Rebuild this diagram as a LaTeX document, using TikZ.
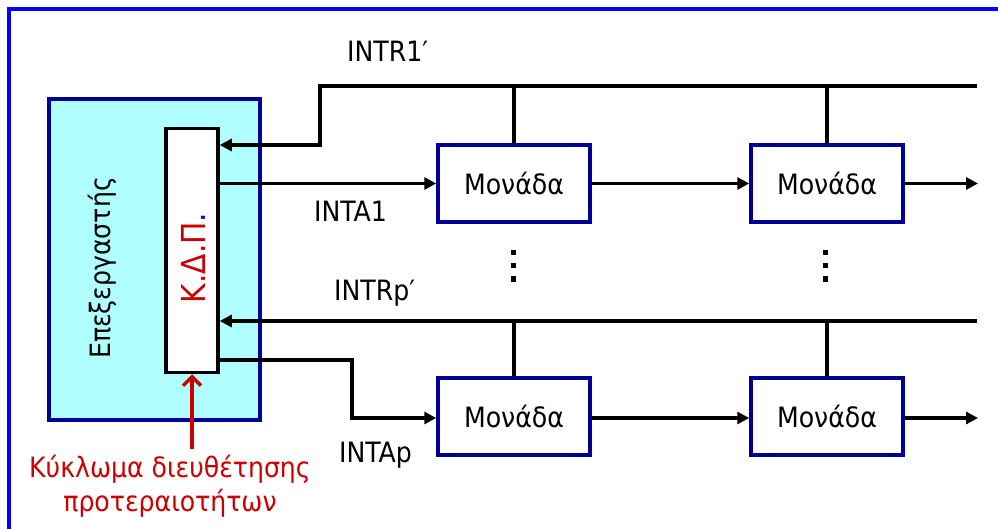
\documentclass[tikz,border=0pt]{standalone}
\usepackage{fontspec}
\setmainfont{DejaVu Sans Condensed}
\usetikzlibrary{arrows.meta}
\definecolor{frameblue}{RGB}{0,0,255}
\definecolor{boxblue}{RGB}{0,0,153}
\definecolor{procfill}{RGB}{175,255,255}
\definecolor{redtxt}{RGB}{204,0,0}
\begin{document}
\begin{tikzpicture}[x=1pt,y=-1pt,
  every node/.style={font=\fontsize{28}{34}\selectfont, inner sep=0pt},
  wire/.style={line width=3.5pt, black},
  arr/.style={wire, -{Triangle[length=12pt,width=12pt]}},
  unitbox/.style={draw=boxblue, fill=white, line width=3.5pt, minimum width=152pt, minimum height=77pt},
  procbox/.style={draw=boxblue, fill=procfill, line width=3.5pt, minimum width=211pt, minimum height=321pt},
  kdpbox/.style={draw=black, fill=white, line width=3.5pt, minimum width=52pt, minimum height=244pt},
  dotsq/.style={fill=black, minimum width=5pt, minimum height=5pt},
  lbl/.style={anchor=base west}
]
\useasboundingbox (0,0) rectangle (998,529);
\fill[white] (0,0) rectangle (998,529);
\draw[frameblue, line width=3.5pt] (9,9) rectangle (1010,545);

% processor and priority circuit
\node[procbox] (proc) at (154.5,259.5) {};
\node[rotate=90, anchor=base] (proclbl) at (110,268) {Επεξεργαστής};
\node[kdpbox] (kdp) at (192,250.5) {};
\node[rotate=90, anchor=base, text=redtxt, font=\fontsize{33}{36}\selectfont] (kdplbl) at (205,258) {Κ.Δ.Π\textcolor{frameblue}{.}};

% units
\node[unitbox] (m11) at (514,183.5) {Μονάδα};
\node[unitbox] (m12) at (827,183.5) {Μονάδα};
\node[unitbox] (mp1) at (514,416.5) {Μονάδα};
\node[unitbox] (mp2) at (827,416.5) {Μονάδα};

% dots
\foreach \n/\x in {a/513,b/825}{
  \node[dotsq] (d\n1) at (\x,253) {};
  \node[dotsq] (d\n2) at (\x,266) {};
  \node[dotsq] (d\n3) at (\x,279) {};
}

% coordinates
\coordinate (b1r) at (977,86);
\coordinate (b1k) at (320,86);
\coordinate (b1j) at (320,145);
\coordinate (bpr) at (977,321);
\coordinate (o1) at (978,185);
\coordinate (op) at (978,418);
\coordinate (ap) at (219,360);
\coordinate (apk) at (352,360);

% INTR1' bus
\draw[arr] (b1r) -- (b1k) -- (b1j) -- (kdp.east |- b1j);
\draw[wire] (m11.north |- b1r) -- (m11.north);
\draw[wire] (m12.north |- b1r) -- (m12.north);
% INTA1 chain
\draw[arr] (kdp.east |- m11.west) -- (m11.west);
\draw[arr] (m11.east) -- (m12.west);
\draw[arr] (m12.east) -- (m12.east -| o1);

% INTRp' bus
\draw[arr] (bpr) -- (kdp.east |- bpr);
\draw[wire] (mp1.north |- bpr) -- (mp1.north);
\draw[wire] (mp2.north |- bpr) -- (mp2.north);
% INTAp chain
\draw[arr] (ap) -- (apk) |- (mp1.west |- op);
\draw[arr] (mp1.east |- op) -- (mp2.west |- op);
\draw[arr] (mp2.east |- op) -- (op);

% labels
\node[lbl] (lr1) at (347,62) {INTR1′};
\node[lbl] (la1) at (314,222) {INTA1};
\node[lbl] (lrp) at (334,301) {INTRp′};
\node[lbl] (lap) at (339,462) {INTAp};

% priority circuit label
\coordinate (rs) at (192,449);
\draw[redtxt, line width=3.5pt, -{Straight Barb[length=9pt,width=18pt]}] (rs) -- (kdp.south);
\node[text=redtxt, align=center, anchor=north] (kl) at (170,455) {Κύκλωμα διευθέτησης\\προτεραιοτήτων};
\end{tikzpicture}
\end{document}
